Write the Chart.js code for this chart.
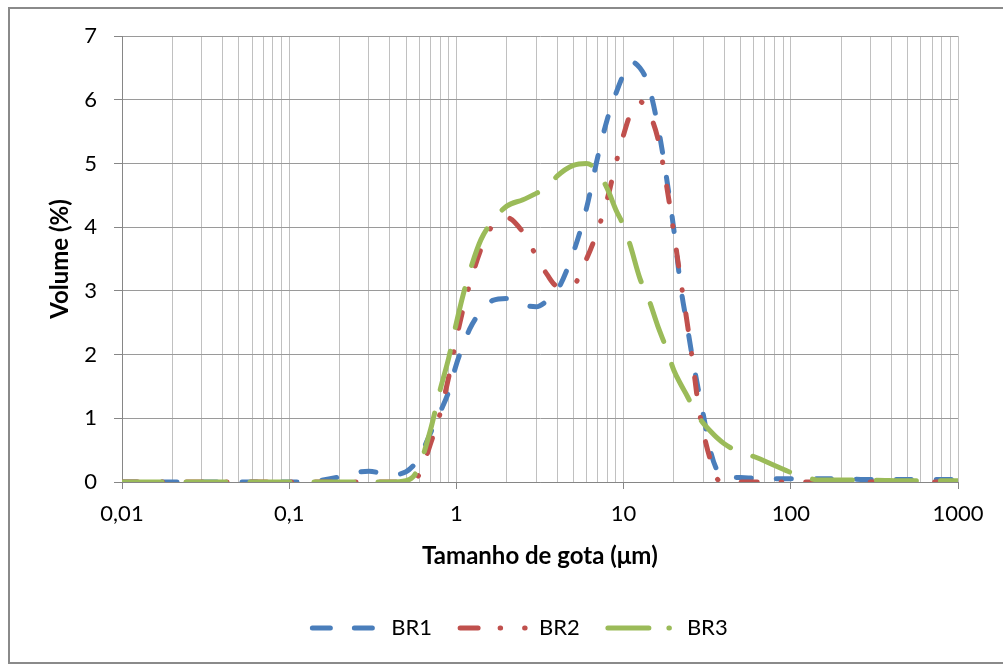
<!DOCTYPE html>
<html>
<head>
<meta charset="utf-8">
<script src="https://cdn.jsdelivr.net/npm/chart.js"></script>
<style>
  html, body { margin: 0; padding: 0; background: #fff; }
  #wrap { width: 1003px; height: 665px; position: relative; }
</style>
</head>
<body>
<div id="wrap"><canvas id="chart"></canvas></div>
<script>
// droplet size (um) and volume (%) per sample
var sizes = [0.01, 0.02, 0.05, 0.1, 0.15, 0.2, 0.25, 0.3, 0.4, 0.5, 0.55, 0.6, 0.7, 0.8, 0.9, 1, 1.1, 1.2, 1.4, 1.65,
  2, 2.5, 3, 3.5, 4, 5, 6, 7, 8, 9, 10, 11, 12.5, 14, 16, 18, 20, 22, 24, 26, 28, 30, 33, 36, 40, 50, 60, 80, 100,
  120, 150, 200, 300, 500, 700, 1000];
var br1 = [0, 0, 0, 0, 0.02, 0.08, 0.15, 0.17, 0.11, 0.16, 0.25, 0.38, 0.77, 1.1, 1.42, 1.85, 2.15, 2.4, 2.68, 2.85,
  2.88, 2.78, 2.75, 2.85, 3.0, 3.6, 4.3, 5.1, 5.7, 6.1, 6.4, 6.6, 6.5, 6.25, 5.6, 4.8, 3.95, 3.05, 2.45, 1.9, 1.45, 1.05, 0.5, 0.2, 0.08, 0.07, 0.06, 0.05, 0.05,
  0.05, 0.05, 0.05, 0.04, 0.04, 0.04, 0.04];
var br2 = [0, 0, 0, 0, 0, 0, 0, 0, 0, 0, 0.03, 0.12, 0.6, 1.08, 1.65, 2.25, 2.73, 3.1, 3.65, 4.03,
  4.15, 3.92, 3.55, 3.25, 3.08, 3.1, 3.5, 3.95, 4.45, 5.0, 5.45, 5.78, 5.97, 5.82, 5.4, 4.68, 3.9, 3.15, 2.5, 1.85, 1.2, 0.78, 0.35, 0.06, 0, 0, 0, 0, 0,
  0, 0, 0, 0, 0, 0, 0];
var br3 = [0, 0, 0, 0, 0, 0, 0, 0, 0, 0.02, 0.08, 0.25, 0.82, 1.45, 1.95, 2.5, 2.95, 3.3, 3.8, 4.1,
  4.33, 4.43, 4.53, 4.62, 4.8, 4.97, 5.0, 4.87, 4.6, 4.27, 4.02, 3.7, 3.2, 2.9, 2.45, 2.1, 1.75, 1.53, 1.35, 1.17, 1.03, 0.92, 0.8, 0.7, 0.6, 0.46, 0.4, 0.26, 0.15,
  0.08, 0.03, 0.03, 0.03, 0.02, 0.02, 0.02];
var seriesNames = ['BR1', 'BR2', 'BR3'];
var decades = [0.01, 0.1, 1, 10, 100, 1000];
var decadeLabels = ['0,01', '0,1', '1', '10', '100', '1000'];

var colors = ['#4a7ebb', '#c0504d', '#9bbb59'];
var dashes = [[15, 25], [16, 24, 0.5, 24], [40, 24]];
var legendDashes = [[18, 24], [18, 22, 0.5, 24, 0.5, 60], [41, 20, 0.5, 60]];

function pts(vals) {
  return sizes.map(function (s, i) { return { x: s, y: vals[i] }; });
}

var font = "Lato, 'Open Sans', sans-serif";

var frame = {
  id: 'frame',
  afterLayout: function (chart) {
    // legend sits a bit right of the plot centre in the original
    chart.legend.left += 36;
    chart.legend.right += 36;
  },
  beforeDraw: function (chart) {
    var c = chart.ctx;
    c.save();
    c.fillStyle = '#fff';
    c.fillRect(0, 0, chart.width, chart.height);
    c.strokeStyle = '#8a8a8a';
    c.lineWidth = 2;
    c.strokeRect(9, 8, 1000, 655);
    c.restore();
  }
};

new Chart(document.getElementById('chart'), {
  type: 'scatter',
  data: {
    datasets: [br1, br2, br3].map(function (v, i) {
      return {
        label: seriesNames[i],
        data: pts(v),
        showLine: true,
        borderColor: colors[i],
        backgroundColor: colors[i],
        borderWidth: 5,
        borderDash: dashes[i],
        borderCapStyle: 'round',
        borderJoinStyle: 'round',
        pointRadius: 0,
        cubicInterpolationMode: 'monotone',
        order: 3 - i
      };
    })
  },
  options: {
    responsive: true,
    maintainAspectRatio: false,
    animation: false,
    layout: { padding: { left: 10, right: 45, top: 36, bottom: 16 } },
    plugins: {
      tooltip: { enabled: false },
      legend: {
        position: 'bottom',
        labels: {
          font: { family: font, size: 22 },
          color: '#000',
          usePointStyle: true,
          pointStyle: 'line',
          pointStyleWidth: 68,
          padding: 28,
          sort: function (a, b) { return a.datasetIndex - b.datasetIndex; },
          generateLabels: function (chart) {
            var items = Chart.defaults.plugins.legend.labels.generateLabels(chart);
            items.forEach(function (it) {
              it.lineDash = legendDashes[it.datasetIndex];
              it.lineCap = 'round';
              it.lineWidth = 5;
              it.pointStyle = 'line';
            });
            return items;
          }
        }
      }
    },
    scales: {
      x: {
        type: 'logarithmic',
        min: 0.01,
        max: 1000,
        afterBuildTicks: function (scale) {
          var t = [];
          decades.forEach(function (d, k) {
            t.push({ value: d, major: true });
            if (k < decades.length - 1) {
              for (var m = 2; m <= 9; m++) t.push({ value: d * m, major: false });
            }
          });
          scale.ticks = t;
        },
        afterFit: function (scale) { scale.height = 107; },
        border: { color: '#868686', width: 1 },
        grid: {
          color: '#c0c0c0',
          tickLength: 7,
          tickColor: function (ctx) { return ctx.tick && ctx.tick.major ? '#868686' : 'rgba(0,0,0,0)'; }
        },
        ticks: {
          autoSkip: false,
          maxRotation: 0,
          padding: 12,
          color: '#000',
          font: { family: font, size: 22 }
        ,
          callback: function (v) {
            var k = decades.findIndex(function (d) { return Math.abs(d - v) < d * 1e-6; });
            return k >= 0 ? decadeLabels[k] : '';
          }
        },
        title: {
          display: true,
          text: 'Tamanho de gota (μm)',
          color: '#000',
          font: { family: font, size: 24, weight: 'bold' },
          padding: { top: 0, bottom: 18 }
        }
      },
      y: {
        min: 0,
        max: 7,
        afterFit: function (scale) { scale.width = 112; },
        border: { color: '#868686', width: 1 },
        grid: { color: '#9a9a9a', tickLength: 8, tickColor: '#868686' },
        ticks: {
          stepSize: 1,
          padding: 17,
          color: '#000',
          font: { family: font, size: 22 }
        },
        title: {
          display: true,
          text: 'Volume (%)',
          color: '#000',
          font: { family: font, size: 24, weight: 'bold' },
          padding: { top: 36, bottom: 0 }
        }
      }
    }
  },
  plugins: [frame]
});
</script>
</body>
</html>
